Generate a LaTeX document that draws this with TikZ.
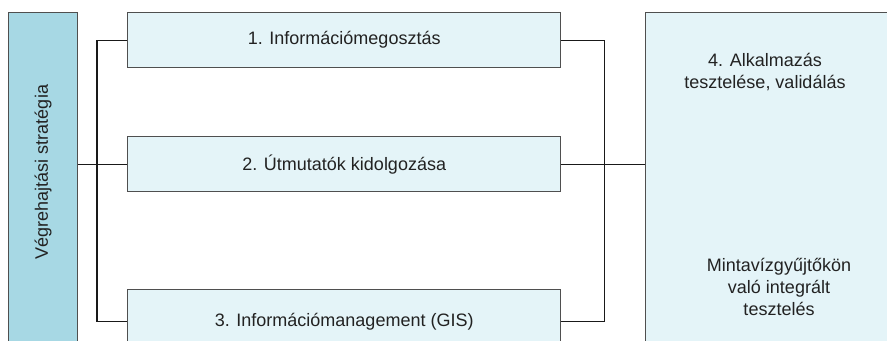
\documentclass[tikz,border=0pt]{standalone}
\usepackage{fontspec}
\setmainfont{Liberation Sans}
\definecolor{stratfill}{HTML}{A7D8E4}
\definecolor{boxfill}{HTML}{E4F4F8}
\definecolor{boxline}{HTML}{4F4F4F}
\definecolor{txt}{HTML}{222222}
\begin{document}
\begin{tikzpicture}[x=0.75pt,y=-0.75pt,
  box/.style={draw=boxline,line width=1pt,fill=boxfill,inner sep=0pt,
    text=txt,font=\fontsize{13.5}{18}\selectfont},
  stratbox/.style={draw=boxline,line width=1pt,fill=stratfill,inner sep=0pt},
  lbl/.style={text=txt,align=center,inner sep=0pt,font=\fontsize{13.5}{16.5}\selectfont},
  conn/.style={draw=black!90,line width=0.8pt}]
\useasboundingbox (0,0) rectangle (887,341);
\clip (0,0) rectangle (887,341);
% left strategy box
\node[stratbox,anchor=north west,minimum width=51.75pt,minimum height=262pt] (strat) at (8,12) {};
\node[lbl,rotate=90] (stratlbl) at (43,172) {Végrehajtási stratégia};
% middle boxes
\node[box,anchor=north west,minimum width=324.75pt,minimum height=41.25pt] (b1) at (127,12) {1. Információmegosztás};
\node[box,anchor=north west,minimum width=324.75pt,minimum height=41.25pt] (b2) at (127,136) {2. Útmutatók kidolgozása};
\node[box,anchor=north west,minimum width=324.75pt,minimum height=48pt] (b3) at (127,289) {3. Információmanagement (GIS)};
% right box
\node[box,anchor=north west,minimum width=190pt,minimum height=262pt] (test) at (645,12) {};
\node[lbl] (t4) at (765,72) {4. Alkalmazás\\tesztelése, validálás};
\node[lbl] (t5) at (779,287) {Mintavízgyűjtőkön\\való integrált\\tesztelés};
% connectors
\draw[conn] (b1.west) -- ++(-30,0) |- (b3.west);
\draw[conn] (strat.east |- b2.west) -- (b2.west);
\draw[conn] (b1.east) -- ++(43,0) |- (b3.east);
\draw[conn] (b2.east) -- (b2.east -| test.west);
\end{tikzpicture}
\end{document}
